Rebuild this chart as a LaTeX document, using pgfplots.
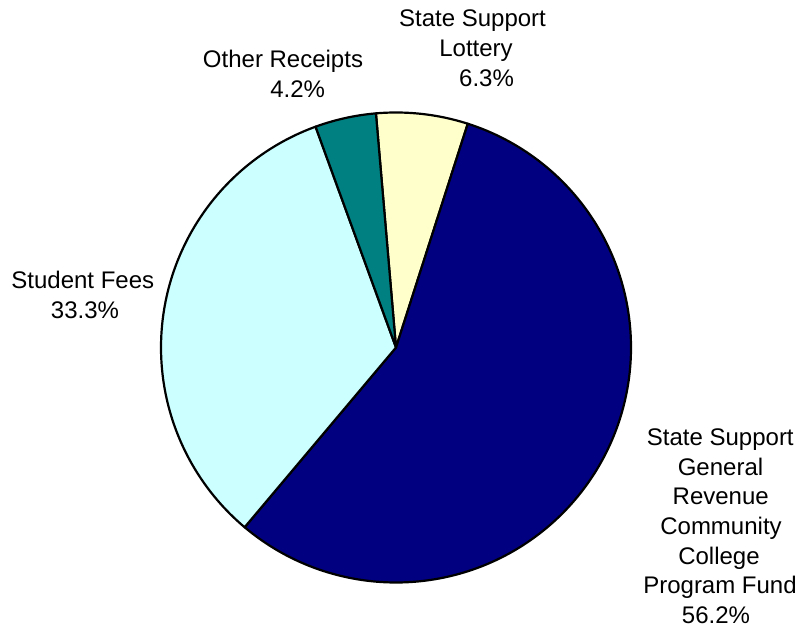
\documentclass[border=0pt]{standalone}
\usepackage{pgfplots}
\pgfplotsset{compat=1.18}
\usepackage{fontspec}
\setmainfont{Liberation Sans}
\definecolor{cNavy}{HTML}{000080}
\definecolor{cCyan}{HTML}{CCFFFF}
\definecolor{cTeal}{HTML}{008080}
\definecolor{cYell}{HTML}{FFFFCC}
% slice shares in percent (clockwise from the start angle)
\def\vLot{6.3}
\def\vGen{56.2}
\def\vStu{33.3}
\def\vOth{4.2}
\def\startangle{94.9}
\pgfmathsetmacro\aA{\startangle}
\pgfmathsetmacro\aB{\aA-3.6*\vLot}
\pgfmathsetmacro\aC{\aB-3.6*\vGen}
\pgfmathsetmacro\aD{\aC-3.6*\vStu}
\pgfmathsetmacro\aE{\aD-3.6*\vOth}
\begin{document}
\begin{tikzpicture}[x=1pt,y=1pt]
\useasboundingbox (0,0) rectangle (799,629);
\begin{axis}[at={(396pt,281.5pt)}, anchor=origin,
  x=235pt, y=235pt, xmin=-1, xmax=1, ymin=-1, ymax=1,
  hide axis, clip=false]
\addplot[fill=cYell, draw=black, line width=2.2pt, line join=round, domain=\aB:\aA, samples=40, variable=\t] ({cos(\t)},{sin(\t)}) -- (axis cs:0,0) -- cycle;
\addplot[fill=cNavy, draw=black, line width=2.2pt, line join=round, domain=\aC:\aB, samples=200, variable=\t] ({cos(\t)},{sin(\t)}) -- (axis cs:0,0) -- cycle;
\addplot[fill=cCyan, draw=black, line width=2.2pt, line join=round, domain=\aD:\aC, samples=120, variable=\t] ({cos(\t)},{sin(\t)}) -- (axis cs:0,0) -- cycle;
\addplot[fill=cTeal, draw=black, line width=2.2pt, line join=round, domain=\aE:\aD, samples=30, variable=\t] ({cos(\t)},{sin(\t)}) -- (axis cs:0,0) -- cycle;
\end{axis}
\begin{scope}[every node/.style={anchor=base, inner sep=0pt, font=\fontsize{24}{29}\selectfont}]
\node at (472.5,602) {State Support};
\node at (476,572) {Lottery};
\node at (486.5,542) {6.3\%};
\node at (283,561) {Other Receipts};
\node at (297.7,531) {4.2\%};
\node at (82.8,340) {Student Fees};
\node at (85,310) {33.3\%};
\node at (720.3,184) {State Support};
\node at (720.5,154) {General};
\node at (720.7,125) {Revenue};
\node at (721,95) {Community};
\node at (719,65) {College};
\node at (720,36) {Program Fund};
\node at (716,6) {56.2\%};
\end{scope}
\end{tikzpicture}
\end{document}
